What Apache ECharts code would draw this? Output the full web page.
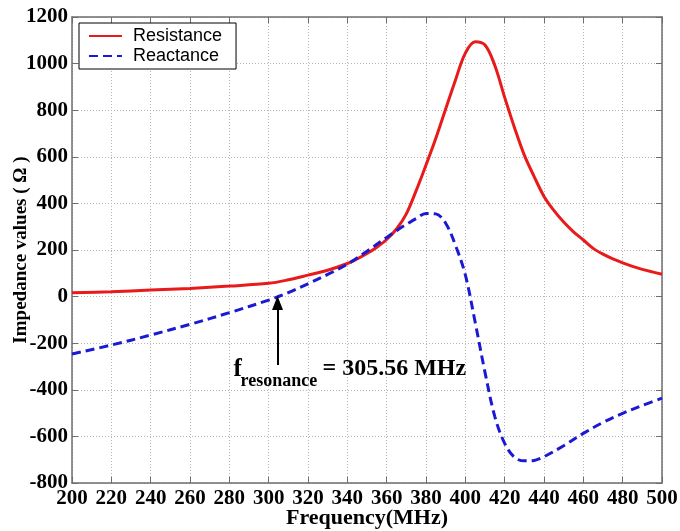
<!DOCTYPE html>
<html>
<head>
<meta charset="utf-8">
<script src="https://cdn.jsdelivr.net/npm/echarts@6/dist/echarts.min.js"></script>
<style>
html,body{margin:0;padding:0;background:#fff;}
#chart{width:680px;height:531px;}
</style>
</head>
<body>
<div id="chart"></div>
<script>
// ---- data ----
const freqR = [200,220,240,260,280,300,310,320,330,340,345,350,355,360,365,370,375,380,385,390,395,400,405,410,415,420,425,430,435,440,445,450,455,460,465,470,475,480,485,490,495,500];
const resistance = [17,21,28,35,45,57,72,92,113,142,162,185,212,245,290,355,455,565,680,805,930,1045,1094,1080,992,855,725,607,515,430,370,320,278,243,207,182,162,145,130,117,106,96];

const freqX = [200,220,240,260,280,300,310,320,330,340,350,360,365,370,375,380,385,390,395,400,405,410,415,420,425,430,435,440,450,460,470,480,490,500];
const reactance = [-246,-208,-165,-119,-69,-15,17,55,95,139,195,254,283,310,335,357,355,315,220,93,-110,-325,-515,-630,-690,-705,-703,-687,-640,-587,-540,-501,-467,-436];

const seriesNames = ['Resistance','Reactance'];
const xTicks = {min:200, max:500, interval:20};
const yTicks = {min:-800, max:1200, interval:200};

const fResonance = 305.56;
const arrowFreq = 304.5;
const arrowFrom = -294;
const arrowTo = -27;

const xLabel = 'Frequency(MHz)';
const yLabel = 'Impedance values ( Ω )';

// ---- chart ----
const chart = echarts.init(document.getElementById('chart'), null, {renderer:'canvas'});
const serif = '"Liberation Serif","Times New Roman",serif';
const axisColor = '#6e6e6e';
const gridStyle = {show:true, lineStyle:{color:'#b5b5b5', type:[1,2], width:1}};
const plain = v => String(v);

function zip(a,b){return a.map((v,i)=>[v,b[i]]);}

const option = {
  animation:false,
  backgroundColor:'#fff',
  grid:{left:72, right:18, top:17, bottom:48, containLabel:false, outerBoundsMode:'none'},
  legend:{
    left:79, top:23, orient:'vertical',
    data:seriesNames,
    itemWidth:33, itemHeight:14, itemGap:0,
    padding:[3,14,3,9],
    borderColor:'#000', borderWidth:1, backgroundColor:'#fff',
    itemStyle:{color:'rgba(0,0,0,0)', borderColor:'rgba(0,0,0,0)', borderWidth:0},
    textStyle:{fontFamily:'"Liberation Sans",Arial,sans-serif', fontSize:18, color:'#000', lineHeight:20, padding:[0,0,0,6]}
  },
  xAxis:[{
    type:'value', min:xTicks.min, max:xTicks.max, interval:xTicks.interval,
    name:xLabel, nameLocation:'middle', nameGap:24, nameMoveOverlap:false,
    nameTextStyle:{fontFamily:serif, fontWeight:'bold', fontSize:22, color:'#000'},
    axisLine:{show:true, onZero:false, lineStyle:{color:axisColor, width:1.5}},
    axisTick:{show:true, inside:true, length:6, lineStyle:{color:axisColor}},
    axisLabel:{fontFamily:serif, fontWeight:'bold', fontSize:21, color:'#000', margin:5, formatter:plain},
    splitLine:gridStyle
  },{
    type:'value', position:'top', min:xTicks.min, max:xTicks.max, interval:xTicks.interval,
    axisLine:{show:true, onZero:false, lineStyle:{color:axisColor, width:1.5}},
    axisTick:{show:true, inside:true, length:6, lineStyle:{color:axisColor}},
    axisLabel:{show:false}, splitLine:{show:false}
  }],
  yAxis:[{
    type:'value', min:yTicks.min, max:yTicks.max, interval:yTicks.interval,
    name:yLabel, nameLocation:'middle', nameGap:41, nameRotate:90, nameMoveOverlap:false,
    nameTextStyle:{fontFamily:serif, fontWeight:'bold', fontSize:19, color:'#000'},
    axisLine:{show:true, onZero:false, lineStyle:{color:axisColor, width:1.5}},
    axisTick:{show:true, inside:true, length:6, lineStyle:{color:axisColor}},
    axisLabel:{fontFamily:serif, fontWeight:'bold', fontSize:21, color:'#000', margin:4, formatter:plain},
    splitLine:gridStyle
  },{
    type:'value', position:'right', min:yTicks.min, max:yTicks.max, interval:yTicks.interval,
    axisLine:{show:true, onZero:false, lineStyle:{color:axisColor, width:1.5}},
    axisTick:{show:true, inside:true, length:6, lineStyle:{color:axisColor}},
    axisLabel:{show:false}, splitLine:{show:false}
  }],
  series:[{
    name:seriesNames[0], type:'line', smooth:0.35, symbol:'none',
    data:zip(freqR, resistance),
    itemStyle:{color:'#e81a1a'},
    lineStyle:{color:'#e81a1a', width:3}
  },{
    name:seriesNames[1], type:'line', smooth:0.35, symbol:'none',
    data:zip(freqX, reactance),
    itemStyle:{color:'#1a1ad2'},
    lineStyle:{color:'#1a1ad2', width:3, type:[9,5]},
    markLine:{
      silent:true, symbol:['none','triangle'], symbolSize:[11,14],
      label:{show:false},
      lineStyle:{color:'#000', width:2, type:'solid'},
      data:[[{coord:[arrowFreq, arrowFrom]},{coord:[arrowFreq, arrowTo]}]]
    }
  }]
};
chart.setOption(option);

// annotation text positioned relative to the arrow
const base = chart.convertToPixel({xAxisIndex:0, yAxisIndex:0}, [arrowFreq, arrowFrom]);
const ax = base[0], ay = base[1];
chart.setOption({
  graphic:[
    {type:'text', left:ax-44, top:ay-8, style:{text:'f', font:'bold 25px '+serif, fill:'#000'}},
    {type:'text', left:ax-37, top:ay+7, style:{text:'resonance', font:'bold 18px '+serif, fill:'#000'}},
    {type:'text', left:ax+45, top:ay-8, style:{text:'= ' + fResonance.toFixed(2) + ' MHz', font:'bold 24px '+serif, fill:'#000'}}
  ]
});
</script>
</body>
</html>
